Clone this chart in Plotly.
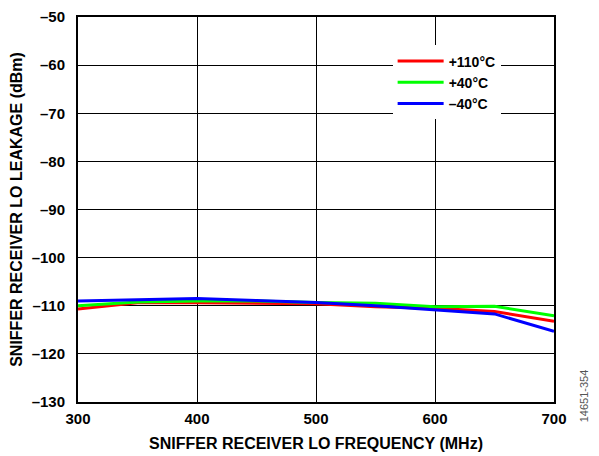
import plotly.graph_objects as go

# LO frequency (MHz) and leakage (dBm) per temperature
freq = [300, 350, 400, 450, 500, 550, 600, 650, 700]
leak_110 = [-110.7, -109.4, -109.4, -109.5, -109.6, -110.2, -110.5, -111.2, -113.2]
leak_40 = [-110.0, -109.2, -109.0, -109.0, -109.3, -109.5, -110.2, -110.1, -112.1]
leak_m40 = [-109.0, -108.8, -108.5, -108.9, -109.3, -110.0, -110.9, -111.7, -115.3]

y_ticks = [-50, -60, -70, -80, -90, -100, -110, -120, -130]
y_labels = ['–50', '–60', '–70', '–80', '–90', '–100', '–110', '–120', '–130']
x_ticks = [300, 400, 500, 600, 700]

font = 'Arial, Liberation Sans, sans-serif'

fig = go.Figure()
for name, vals, col in [('+110°C', leak_110, '#FF0000'),
                        ('+40°C', leak_40, '#00FF00'),
                        ('–40°C', leak_m40, '#0000FF')]:
    fig.add_trace(go.Scatter(x=freq, y=vals, name=name, mode='lines',
                             line=dict(color=col, width=3)))

# page body adds an 8px offset, so margins are shifted by that
fig.update_layout(
    width=599, height=456,
    margin=dict(l=70, r=53, t=9, b=62),
    paper_bgcolor='white', plot_bgcolor='white',
    font=dict(family=font, size=15, color='black'),
    legend=dict(x=0.661, y=0.926, xanchor='left', yanchor='top',
                bgcolor='white', itemwidth=46, entrywidth=122,
                font=dict(family=font, size=14, color='black', weight='bold')),
)
fig.update_xaxes(range=[300, 700], tickvals=x_ticks, automargin=False,
                 tickfont=dict(weight='bold', size=15),
                 showgrid=True, gridcolor='black', gridwidth=1,
                 showline=True, linecolor='black', linewidth=2, mirror=True,
                 ticks='', zeroline=False, ticklabelstandoff=2,
                 ticklabeloverflow='allow',
                 title=dict(text='SNIFFER RECEIVER LO FREQUENCY (MHz)',
                            font=dict(weight='bold', size=16), standoff=12))
fig.update_yaxes(range=[-130, -50], tickvals=y_ticks, ticktext=y_labels,
                 automargin=False,
                 tickfont=dict(weight='bold', size=15),
                 showgrid=True, gridcolor='black', gridwidth=1,
                 showline=True, linecolor='black', linewidth=2, mirror=True,
                 ticks='', zeroline=False, ticklabelstandoff=8,
                 ticklabeloverflow='allow',
                 title=dict(text='SNIFFER RECEIVER LO LEAKAGE (dBm)',
                            font=dict(weight='bold', size=16), standoff=12))

fig.add_annotation(text='14651-354', xref='paper', yref='paper',
                   x=1.08, y=-0.059, showarrow=False, textangle=-90,
                   font=dict(family=font, size=11, color='#555555'))

fig.write_html('out.html')
